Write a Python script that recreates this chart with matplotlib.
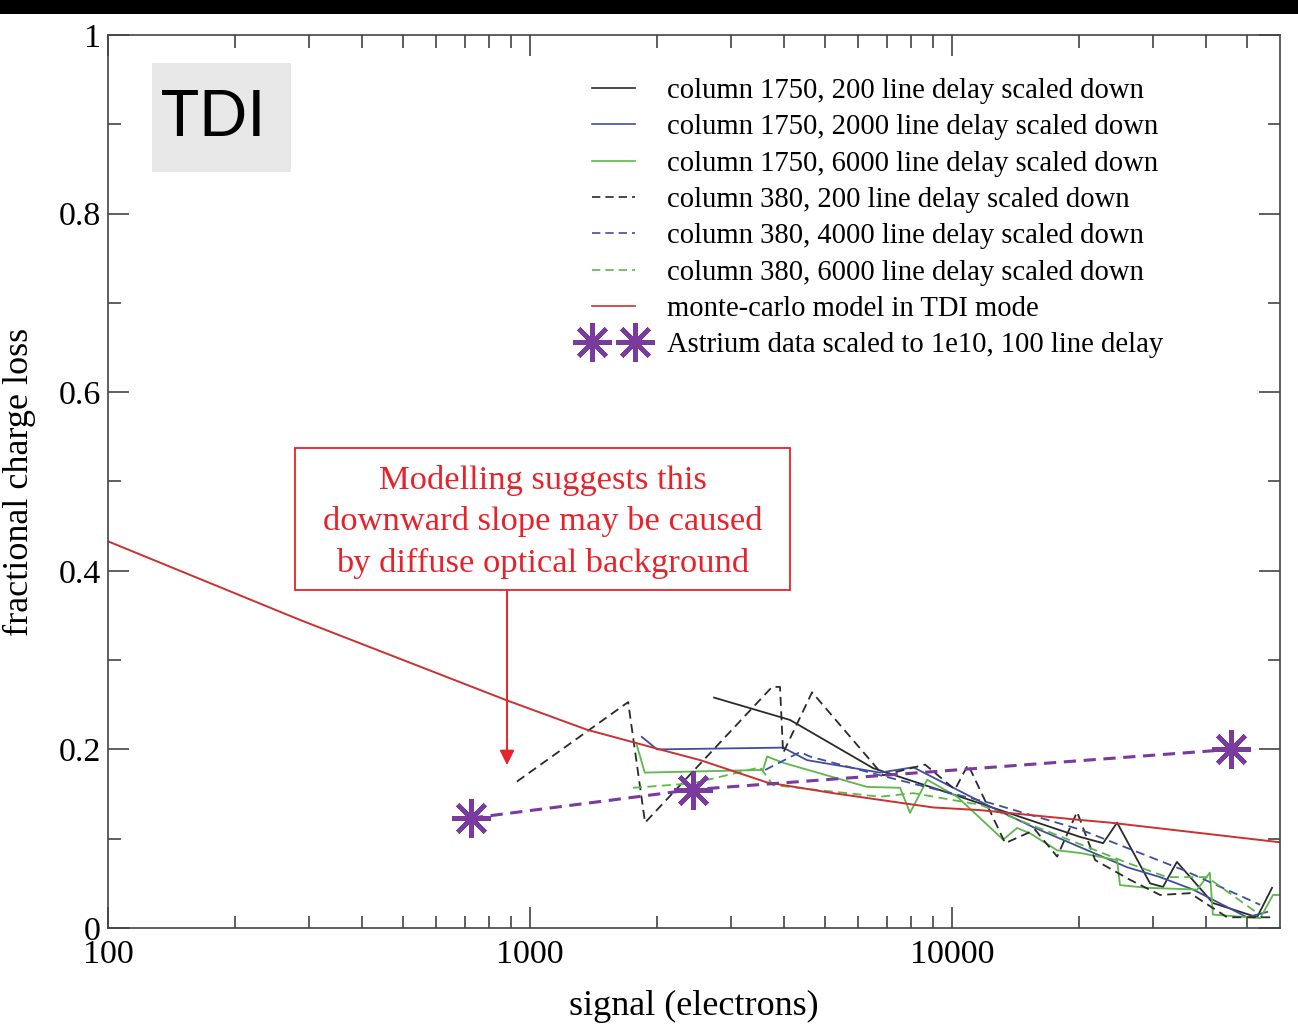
import matplotlib
matplotlib.use('Agg')
import matplotlib.pyplot as plt
from matplotlib.patches import Rectangle
from matplotlib.ticker import FixedLocator, MultipleLocator, FormatStrFormatter, NullFormatter
import numpy as np

plt.rcParams['font.family'] = 'Liberation Serif'

# column 1750 runs (solid)
col1750_200_x = [2730, 4130, 6500, 10450, 20100, 22800, 24600, 29450, 31600, 34100, 41500, 52800, 57300]
col1750_200_y = [0.258, 0.233, 0.179, 0.147, 0.102, 0.095, 0.118, 0.050, 0.046, 0.074, 0.028, 0.012, 0.045]

col1750_2000_x = [1840, 2000, 3980, 4530, 6750, 8090, 12300, 15560, 26000, 31100, 37250, 50000, 55800]
col1750_2000_y = [0.214, 0.200, 0.202, 0.188, 0.174, 0.180, 0.136, 0.113, 0.068, 0.057, 0.043, 0.012, 0.018]

col1750_6000_x = [1790, 1870, 3565, 3645, 3980, 6290, 7530, 7950, 8730, 10280, 13210, 14260,
                  15300, 17740, 20100, 24600, 25000, 29000, 38100, 40800, 41500, 53700, 57600, 59800]
col1750_6000_y = [0.205, 0.174, 0.177, 0.192, 0.185, 0.158, 0.157, 0.129, 0.166, 0.147, 0.099, 0.112,
                  0.106, 0.087, 0.084, 0.076, 0.048, 0.045, 0.043, 0.062, 0.015, 0.011, 0.037, 0.037]

# column 380 runs (dashed)
col380_200_x = [931, 1708, 1873, 3746, 3911, 3978, 4659, 6863, 8630, 10160, 10910, 13360, 15730,
                17740, 19780, 21830, 26400, 31100, 36640, 44850, 57640]
col380_200_y = [0.164, 0.253, 0.118, 0.270, 0.270, 0.196, 0.264, 0.171, 0.183, 0.155, 0.183, 0.095, 0.110,
                0.080, 0.130, 0.076, 0.054, 0.037, 0.039, 0.012, 0.012]

col380_4000_x = [3606, 4363, 4608, 6750, 12300, 20200, 35260, 53700]
col380_4000_y = [0.177, 0.197, 0.192, 0.171, 0.140, 0.110, 0.065, 0.026]

col380_6000_x = [1754, 2433, 3508, 3765, 6750, 8090, 11650, 26000, 32300, 40200, 52800]
col380_6000_y = [0.157, 0.162, 0.180, 0.160, 0.147, 0.151, 0.138, 0.073, 0.057, 0.057, 0.017]

# monte-carlo model
mc_x = [100, 285, 880, 1365, 2066, 2530, 3645, 5225, 9015, 11640, 20100, 23660, 59840]
mc_y = [0.433, 0.345, 0.255, 0.222, 0.199, 0.188, 0.163, 0.151, 0.135, 0.132, 0.121, 0.118, 0.096]

# Astrium points
astrium_x = [724, 2433, 45800]
astrium_y = [0.123, 0.155, 0.200]

labels = ['column 1750, 200 line delay scaled down',
          'column 1750, 2000 line delay scaled down',
          'column 1750, 6000 line delay scaled down',
          'column 380, 200 line delay scaled down',
          'column 380, 4000 line delay scaled down',
          'column 380, 6000 line delay scaled down',
          'monte-carlo model in TDI mode',
          'Astrium data scaled to 1e10, 100 line delay']

note = 'Modelling suggests this\ndownward slope may be caused\nby diffuse optical background'
note_x = 882
note_arrow_y = 0.1825

black = '#2a2a2a'
blue = '#3f4f9e'
green = '#5cb848'
red = '#cc3030'
purple = '#7a3a9e'
note_red = '#e8222a'

fig = plt.figure(figsize=(12.98, 10.25), dpi=100)
fig.patches.append(Rectangle((0, 1 - 14/1025.), 1, 14/1025., transform=fig.transFigure,
                             facecolor='black', edgecolor='none', zorder=10))
ax = fig.add_axes([108/1298., 1 - 928/1025., 1172/1298., 893/1025.])

lw = 1.3
dash = (0, (5, 3))
ax.plot(col1750_200_x, col1750_200_y, '-', color=black, lw=lw, label=labels[0])
ax.plot(col1750_2000_x, col1750_2000_y, '-', color=blue, lw=lw, label=labels[1])
ax.plot(col1750_6000_x, col1750_6000_y, '-', color=green, lw=lw, label=labels[2])
ax.plot(col380_200_x, col380_200_y, linestyle=dash, color=black, lw=lw, label=labels[3])
ax.plot(col380_4000_x, col380_4000_y, linestyle=dash, color=blue, lw=lw, label=labels[4])
ax.plot(col380_6000_x, col380_6000_y, linestyle=dash, color=green, lw=lw, label=labels[5])
ax.plot(mc_x, mc_y, '-', color=red, lw=1.4, label=labels[6])
ax.plot(astrium_x, astrium_y, linestyle=(0, (4, 2.5)), color=purple, lw=2.2,
        marker=(8, 2, 0), markersize=28, markeredgewidth=3.2, markeredgecolor=purple,
        label=labels[7])

ax.set_xscale('log')
ax.set_xlim(100, 59840)
ax.set_ylim(0, 1)

ax.xaxis.set_major_locator(FixedLocator([100, 1000, 10000]))
ax.xaxis.set_major_formatter(FormatStrFormatter('%d'))
ax.xaxis.set_minor_locator(FixedLocator([k * d for d in [100, 1000, 10000] for k in range(2, 10)]))
ax.xaxis.set_minor_formatter(NullFormatter())
ax.yaxis.set_major_locator(MultipleLocator(0.2))
ax.yaxis.set_minor_locator(MultipleLocator(0.1))
ax.yaxis.set_major_formatter(FormatStrFormatter('%g'))

ax.tick_params(which='both', direction='in', top=True, right=True, color='#333333', width=1.1)
ax.tick_params(which='major', length=15, labelsize=24.5, pad=5)
ax.tick_params(axis='x', which='major', pad=8)
ax.tick_params(which='minor', length=9)
for s in ax.spines.values():
    s.set_linewidth(1.2)
    s.set_color('#444444')

ax.set_xlabel('signal (electrons)', fontsize=26, labelpad=15)
ax.set_ylabel('fractional charge loss', fontsize=26, labelpad=16)

leg = ax.legend(loc='upper left', bbox_to_anchor=(0.406, 0.952), frameon=False, fontsize=20.6,
                handlelength=2.1, handletextpad=0.8, labelspacing=0.36, numpoints=2,
                borderpad=0, borderaxespad=0)
for h in leg.legend_handles[:7]:
    h.set_linewidth(1.2)
leg.legend_handles[7].set_linestyle('none')

# TDI badge
ax.add_patch(Rectangle((0.0375, 0.8466), 0.1186, 0.122, transform=ax.transAxes,
                       facecolor='#e8e8e8', edgecolor='none', zorder=1))
ax.text(0.0896, 0.9076, 'TDI', transform=ax.transAxes, ha='center', va='center',
        fontsize=46, family='Lato', color='black', zorder=2)

# annotation box and arrow
ax.add_patch(Rectangle((0.1596, 0.3785), 0.4223, 0.159, transform=ax.transAxes,
                       facecolor='white', edgecolor=note_red, lw=1.3, zorder=4))
ax.text(0.3707, 0.4547, note, transform=ax.transAxes, ha='center', va='center',
        fontsize=24.8, color=note_red, linespacing=1.42, zorder=5)
ax.annotate('', xy=(note_x, note_arrow_y), xytext=(note_x, 0.3785),
            arrowprops=dict(arrowstyle='-|>', color=note_red, lw=1.4, mutation_scale=22,
                            shrinkA=0, shrinkB=0), zorder=5)

fig.savefig('out.png', dpi=100)
